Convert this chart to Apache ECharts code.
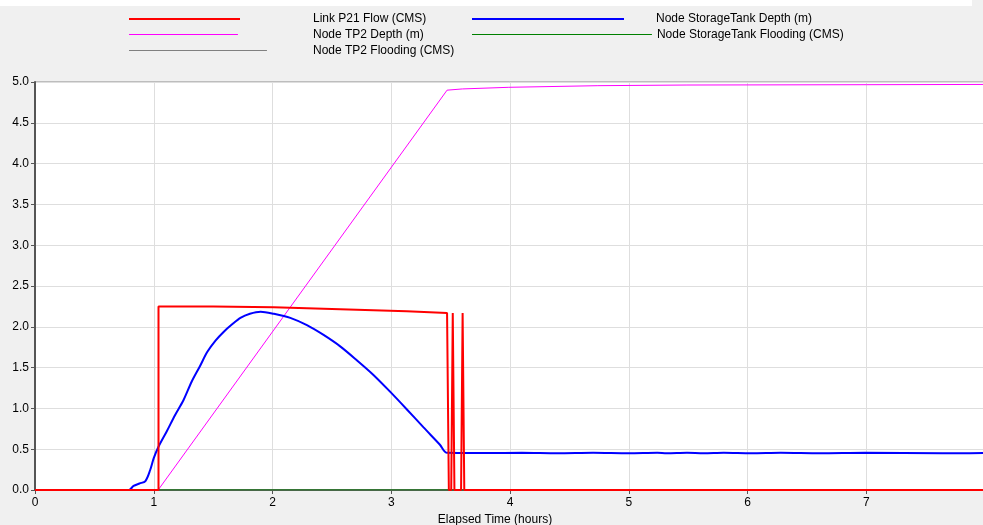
<!DOCTYPE html>
<html>
<head>
<meta charset="utf-8">
<script src="https://cdn.jsdelivr.net/npm/echarts@6/dist/echarts.min.js"></script>
<style>
html,body{margin:0;padding:0;background:#f0f0f0;}
#chart{width:983px;height:525px;}
</style>
</head>
<body>
<div id="chart"></div>
<script>
// ---- Data (time in hours) ----
const seriesNames = ['Link P21 Flow (CMS)', 'Node StorageTank Depth (m)', 'Node TP2 Depth (m)', 'Node StorageTank Flooding (CMS)', 'Node TP2 Flooding (CMS)'];

const flowTime   = [0, 1.04, 1.04, 1.5, 2.01, 2.57, 3.13, 3.47, 3.485, 3.505, 3.518, 3.532, 3.588, 3.601, 3.615, 8];
const flowValues = [0, 0, 2.25, 2.25, 2.24, 2.215, 2.19, 2.17, 0, 0, 2.17, 0, 0, 2.17, 0, 0];

const tankTime   = [0, 0.79, 0.83, 0.88, 0.93, 0.97, 1.0, 1.04, 1.11, 1.18, 1.25, 1.32, 1.39, 1.45, 1.52, 1.59, 1.66, 1.73, 1.81, 1.90, 2.01, 2.15, 2.29, 2.43, 2.57, 2.71, 2.85, 2.99, 3.13, 3.27, 3.41, 3.47,
                    3.8, 4.1, 4.4, 4.7, 5.0, 5.24, 5.32, 5.49, 5.63, 5.80, 6.03, 6.28, 6.61, 6.99, 7.64, 8.0];
const tankValues = [0, 0, 0.05, 0.08, 0.11, 0.245, 0.39, 0.53, 0.72, 0.92, 1.10, 1.33, 1.52, 1.69, 1.83, 1.94, 2.03, 2.11, 2.16, 2.185, 2.16, 2.11, 2.02, 1.90, 1.76, 1.59, 1.41, 1.205, 0.99, 0.77, 0.555, 0.455,
                    0.452, 0.455, 0.449, 0.455, 0.449, 0.455, 0.449, 0.455, 0.449, 0.455, 0.449, 0.455, 0.449, 0.455, 0.449, 0.455];

const tp2Time    = [0, 1.037, 3.47, 3.6, 3.99, 4.74, 5.49, 7.0, 8.0];
const tp2Values  = [0, 0, 4.90, 4.915, 4.935, 4.955, 4.963, 4.967, 4.97];

const tankFloodTime   = [0, 8];
const tankFloodValues = [0, 0];
const tp2FloodTime    = [0, 8];
const tp2FloodValues  = [0, 0];

const yTicks = [0, 0.5, 1, 1.5, 2, 2.5, 3, 3.5, 4, 4.5, 5];
const xTicks = [0, 1, 2, 3, 4, 5, 6, 7];

function pairs(t, v) { return t.map((x, i) => [x, v[i]]); }

const FONT = 'Liberation Sans, Arial, sans-serif';
const colors = {
  'Link P21 Flow (CMS)': '#ff0000',
  'Node StorageTank Depth (m)': '#0000ff',
  'Node TP2 Depth (m)': '#ff00ff',
  'Node StorageTank Flooding (CMS)': '#008000',
  'Node TP2 Flooding (CMS)': '#808080'
};
// thin (1px) bar inside a 2px-tall legend icon box of width w
function thinIcon(w) { return 'path://M0,0L' + w + ',0L' + w + ',1L0,1Z M0,2L0.01,2L0.01,2.001Z'; }

function legendItem(name, left, top, w, thin, padLeft) {
  return {
    data: [{ name: name, itemStyle: { color: colors[name], borderWidth: 0 } }],
    left: left, top: top, itemWidth: w, itemHeight: 2, icon: thin ? thinIcon(w) : 'rect',
    padding: 0, selectedMode: false, orient: 'horizontal',
    itemStyle: { color: colors[name], borderWidth: 0 },
    textStyle: { fontFamily: FONT, fontSize: 12, color: '#000', padding: [0, 0, 0, padLeft] }
  };
}

const chart = echarts.init(document.getElementById('chart'), null, { renderer: 'canvas' });
chart.setOption({
  animation: false,
  backgroundColor: '#f0f0f0',
  graphic: [{ type: 'rect', shape: { x: 0, y: 0, width: 972, height: 6 }, style: { fill: '#ffffff' }, silent: true }],
  legend: [
    legendItem('Link P21 Flow (CMS)', 129, 13, 111, false, 68),
    legendItem('Node TP2 Depth (m)', 129, 29, 109, true, 70),
    legendItem('Node TP2 Flooding (CMS)', 129, 45, 138, true, 41),
    legendItem('Node StorageTank Depth (m)', 472, 13, 152, false, 27),
    legendItem('Node StorageTank Flooding (CMS)', 472, 29, 180, true, 0)
  ],
  grid: { left: 35, right: -2, top: 82, bottom: 35, outerBoundsMode: 'none', containLabel: false,
          show: true, backgroundColor: '#ffffff', borderColor: '#8a8a8a', borderWidth: 1 },
  xAxis: {
    type: 'value', min: 0, max: 8, interval: 1,
    name: 'Elapsed Time (hours)', nameLocation: 'middle', nameGap: 21,
    nameTextStyle: { fontFamily: FONT, fontSize: 12, color: '#000', padding: [0, 30, 0, 0] },
    axisLine: { show: true, lineStyle: { color: '#555', width: 2 } },
    axisTick: { show: true, length: 4, lineStyle: { color: '#555' } },
    axisLabel: { fontFamily: FONT, fontSize: 12, color: '#000', margin: 7,
      formatter: v => (xTicks.indexOf(v) >= 0 ? String(v) : '') },
    splitLine: { show: true, lineStyle: { color: '#dedede', width: 1 } }
  },
  yAxis: {
    type: 'value', min: yTicks[0], max: yTicks[yTicks.length - 1], interval: 0.5,
    axisLine: { show: true, lineStyle: { color: '#555', width: 2 } },
    axisTick: { show: true, length: 4, lineStyle: { color: '#555' } },
    axisLabel: { fontFamily: FONT, fontSize: 12, color: '#000', margin: 6, formatter: v => v.toFixed(1) },
    splitLine: { show: true, lineStyle: { color: '#dedede', width: 1 } }
  },
  series: [
    { name: 'Node TP2 Flooding (CMS)', type: 'line', symbol: 'none', data: pairs(tp2FloodTime, tp2FloodValues),
      color: colors['Node TP2 Flooding (CMS)'], lineStyle: { width: 1 } },
    { name: 'Node StorageTank Flooding (CMS)', type: 'line', symbol: 'none', data: pairs(tankFloodTime, tankFloodValues),
      color: colors['Node StorageTank Flooding (CMS)'], lineStyle: { width: 1 } },
    { name: 'Node TP2 Depth (m)', type: 'line', symbol: 'none', data: pairs(tp2Time, tp2Values),
      color: colors['Node TP2 Depth (m)'], lineStyle: { width: 1 } },
    { name: 'Node StorageTank Depth (m)', type: 'line', symbol: 'none', data: pairs(tankTime, tankValues),
      smooth: 0.3,
      color: colors['Node StorageTank Depth (m)'], lineStyle: { width: 2 } },
    { name: 'Link P21 Flow (CMS)', type: 'line', symbol: 'none', data: pairs(flowTime, flowValues),
      color: colors['Link P21 Flow (CMS)'], lineStyle: { width: 2 } }
  ]
});
</script>
</body>
</html>
